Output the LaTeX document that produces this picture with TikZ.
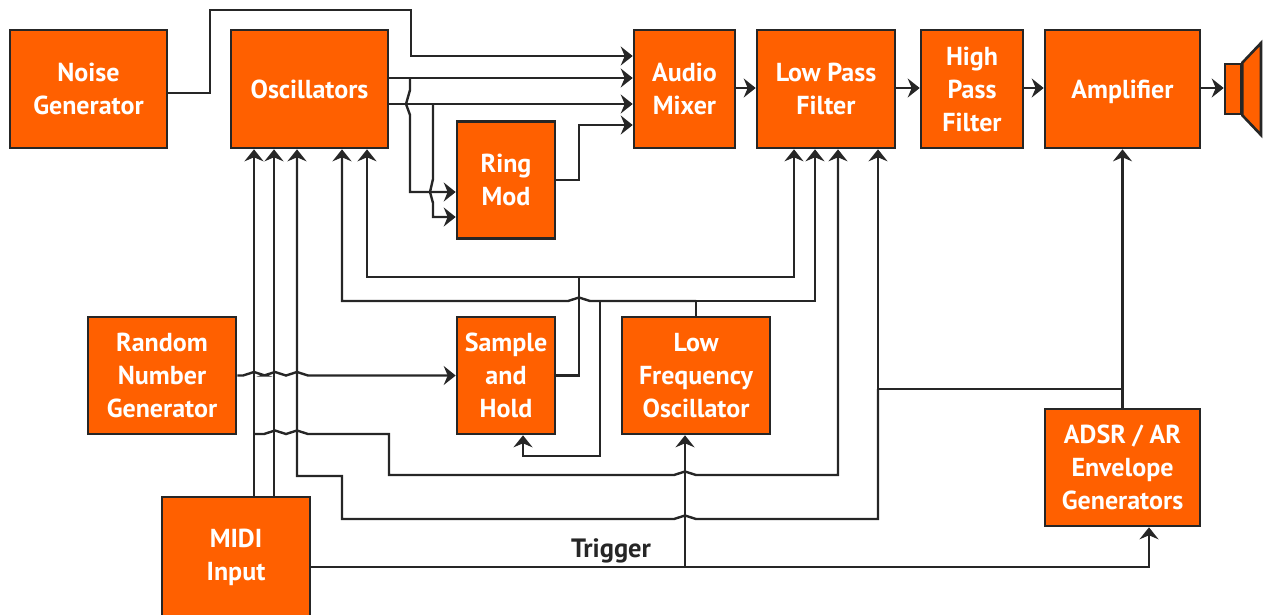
\documentclass[tikz,border=0pt]{standalone}
\usepackage{fontspec}
\setmainfont{PT Sans}
\usetikzlibrary{arrows.meta}
\definecolor{synthorange}{HTML}{FF6000}
\definecolor{synthline}{HTML}{262626}
\newcommand{\hopx}[2]{-- (#1-11,#2) -- (#1,#2-3.5) -- (#1+11,#2)}
\begin{document}
\begin{tikzpicture}[x=1pt,y=-1pt,>={Stealth[length=12pt,width=19pt,inset=4pt]},line width=2.4pt]
  \tikzstyle{block}=[rectangle,draw=synthline,fill=synthorange,line width=2.6pt,outer sep=auto,
                     inner sep=0pt,align=center,text=white,font=\fontsize{26}{33}\selectfont\bfseries]
  \tikzstyle{wire}=[draw=synthline,line join=miter]
  \useasboundingbox (0,0) rectangle (1265,614);
  \node [block,minimum width=157pt,minimum height=118pt] (noise) at (88.5,89) {Noise\\Generator};
  \node [block,minimum width=157pt,minimum height=118pt] (osc) at (309.5,89) {Oscillators};
  \node [block,minimum width=101pt,minimum height=118pt] (mixer) at (684.5,89) {Audio\\Mixer};
  \node [block,minimum width=138pt,minimum height=118pt] (lpf) at (826,89) {Low Pass\\Filter};
  \node [block,minimum width=102pt,minimum height=118pt] (hpf) at (972,89) {High\\Pass\\Filter};
  \node [block,minimum width=155pt,minimum height=118pt,text depth=0pt] (amp) at (1122.5,89) {Amplifier};
  \node [block,minimum width=98pt,minimum height=117pt] (ring) at (506,180) {Ring\\Mod};
  \node [block,minimum width=148pt,minimum height=117pt] (random) at (162,375.5) {Random\\Number\\Generator};
  \node [block,minimum width=98pt,minimum height=117pt] (hold) at (506,375.5) {Sample\\and\\Hold};
  \node [block,minimum width=148pt,minimum height=117pt] (lfo) at (696,375.5) {Low\\Frequency\\Oscillator};
  \node [block,minimum width=155pt,minimum height=117pt] (env) at (1122.5,467.5) {ADSR / AR\\Envelope\\Generators};
  \node [block,minimum width=148pt,minimum height=121pt] (midi) at (236,557.5) {MIDI\\Input};
  \node [block,minimum width=16pt,minimum height=50pt] (spk) at (1233,89) {};
  \filldraw [block] (spk.north east) -- (1261,43) -- (1261,135) -- (spk.south east) -- cycle;
  \node [font=\fontsize{26.5}{30}\selectfont\bfseries,text=synthline] (trig) at (611,550.5) {Trigger};
  \coordinate (sjoin) at (579,277);
  \coordinate (ljoin) at (600,301);
  \coordinate (ejoin) at (1122,389);
  \coordinate (mjoin) at (685,567);
  \begin{scope}[wire]
    \draw [->] (noise.east |- 0,93) -- (210,93) -- (210,10) -- (411,10) -- (411,56) -- (mixer.west |- 0,56);
    \draw [->] (osc.east |- 0,78) -- (mixer.west |- 0,78);
    \draw [->] (osc.east |- 0,104) -- (mixer.west |- 0,104);
    \draw [->] (ring.east) -- (579,180) -- (579,125) -- (mixer.west |- 0,125);
    \draw [->] (410,78) -- (410,90) -- (406,104) -- (410,115) -- (410,192) -- (ring.west |- 0,192);
    \draw [->] (433,104) -- (433,179) -- (430,192) -- (433,203) -- (433,217) -- (ring.west |- 0,217);
    \draw [->] (mixer.east |- 0,88) -- (lpf.west |- 0,88);
    \draw [->] (lpf.east |- 0,88) -- (hpf.west |- 0,88);
    \draw [->] (hpf.east |- 0,88) -- (amp.west |- 0,88);
    \draw [->] (amp.east |- 0,88) -- (spk.west |- 0,88);
    \draw (hold.east) -- (sjoin |- hold.east) -- (sjoin);
    \draw [->] (sjoin) -- (367,277) -- (osc.south -| 367,0);
    \draw [->] (sjoin) -- (794,277) -- (lpf.south -| 794,0);
    \draw [->] (lfo.north) -- (696,301) -- (815,301) -- (lpf.south -| 815,0);
    \draw [<-] (osc.south -| 342,0) -- (342,301) \hopx{579}{301} -- (ljoin) -- (696,301);
    \draw [->] (ljoin) -- (600,456) -- (523,456) -- (hold.south -| 523,0);
    \draw [->] (random.east) \hopx{254}{375.5} \hopx{275}{375.5} \hopx{297}{375.5} -- (hold.west);
    \draw [->] (midi.north -| 254,0) -- (osc.south -| 254,0);
    \draw [->] (midi.north -| 274,0) -- (osc.south -| 274,0);
    \draw [->] (254,434) \hopx{275}{434} \hopx{297}{434} -- (389,434) -- (389,475) \hopx{685}{475} -- (838,475) -- (lpf.south -| 838,0);
    \draw [->] (env.north) -- (amp.south);
    \draw [->] (ejoin) -- (878,389) -- (lpf.south -| 878,0);
    \draw [<-] (osc.south -| 297,0) -- (297,476) -- (342,476) -- (342,519) \hopx{685}{519} -- (878,519) -- (878,389);
    \draw [->] (midi.east |- mjoin) -- (1149,567) -- (env.south -| 1149,0);
    \draw [->] (mjoin) -- (lfo.south -| mjoin);
  \end{scope}
\end{tikzpicture}
\end{document}
